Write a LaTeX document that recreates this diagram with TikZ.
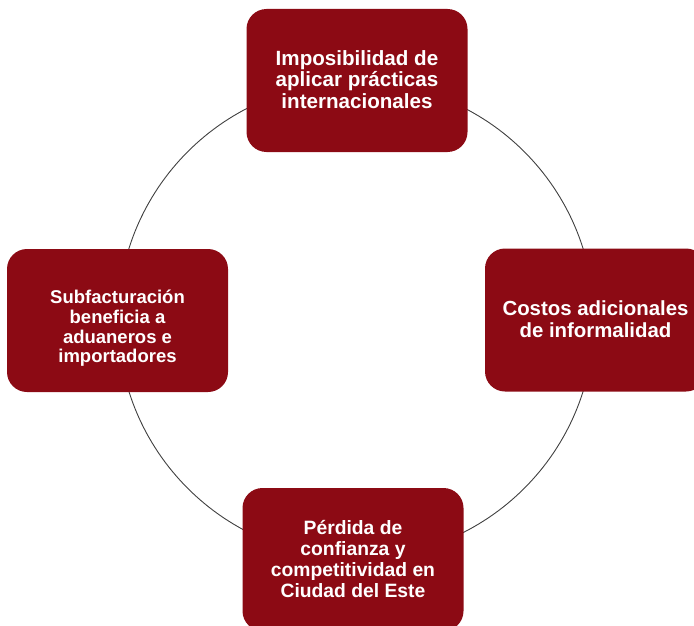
\documentclass[tikz,border=0pt]{standalone}
\usepackage{fontspec}
\setmainfont{Liberation Sans}
\begin{document}
\begin{tikzpicture}[x=1pt,y=1pt,
  box/.style={draw=none, fill=boxred, rounded corners=20pt, minimum width=221pt, minimum height=143pt, inner sep=0pt},
  boxtext/.style={align=center, text=white, inner sep=0pt},
  ring/.style={draw=ringgray, line width=0.9pt}]
\definecolor{boxred}{HTML}{8C0A14}
\definecolor{ringgray}{HTML}{404040}
\useasboundingbox (0,0) rectangle (694,-626);
\clip (0,0) rectangle (694,-626);
\coordinate (c) at (356,-320);
\draw[ring] (c) circle (238);
\node[box] (top) at (357,-80.5) {};
\node[box] (right) at (595.5,-320) {};
\node[box] (left) at (117.5,-320.5) {};
\node[box] (bottom) at (353,-559.5) {};
\node[boxtext, font=\fontsize{20.6}{21.6}\selectfont\bfseries] (toptext) at ([yshift=1pt]top.center)
  {Imposibilidad de\\aplicar prácticas\\internacionales};
\node[boxtext, font=\fontsize{20.4}{22}\selectfont\bfseries] (righttext) at ([yshift=0.5pt]right.center)
  {Costos adicionales\\de informalidad};
\node[boxtext, font=\fontsize{18.5}{19.7}\selectfont\bfseries] (lefttext) at ([yshift=-8pt]left.center)
  {Subfacturación\\beneficia a\\aduaneros e\\importadores};
\node[boxtext, font=\fontsize{19.3}{20.7}\selectfont\bfseries] (bottomtext) at ([yshift=0.5pt]bottom.center)
  {Pérdida de\\confianza y\\competitividad en\\Ciudad del Este};
\end{tikzpicture}
\end{document}
